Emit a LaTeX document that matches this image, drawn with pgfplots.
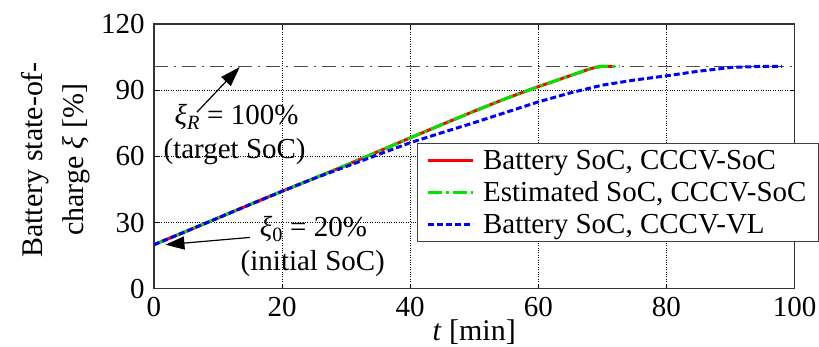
\documentclass[border=0pt]{standalone}
\usepackage{fontspec}
\setmainfont{Liberation Serif}
\usepackage{pgfplots}
\pgfplotsset{compat=1.18}
\usetikzlibrary{arrows.meta}
\newcommand{\fsz}[1]{\fontsize{#1}{#1}\selectfont}

\begin{document}
\begin{tikzpicture}
\begin{axis}[
  scale only axis, width=641pt, height=265pt,
  xmin=0, xmax=100, ymin=0, ymax=120,
  xtick={0,20,40,60,80,100}, ytick={0,30,60,90,120},
  grid=major, major grid style={black, dotted, line width=0.9pt},
  axis line style={line width=1.3pt, black!80},
  tick style={black, line width=0.8pt}, major tick length=5pt,
  /pgf/number format/assume math mode=true,
  tick label style={font=\fsz{29}},
  xticklabel style={inner sep=0pt, yshift=-8pt},
  yticklabel style={inner sep=0pt, xshift=-9pt},
  xlabel={\textit{t} [min]},
  ylabel={Battery state-of-\\charge \textit{ξ} [\%]},
  xlabel style={font=\fsz{30}, at={(axis description cs:0.5,0)}, anchor=north, inner sep=0pt, yshift=-31pt},
  ylabel style={font=\fontsize{30}{41}\selectfont, align=center, at={(axis description cs:-0.154,0.487)}, anchor=center, inner sep=0pt},
  legend style={at={(0.41,0.551)}, anchor=north west, draw=black!75, line width=1pt, fill=white,
    font=\fsz{29}, inner xsep=9pt, inner ysep=1pt, nodes={inner xsep=3pt, inner ysep=5.5pt}, row sep=0pt, column sep=6pt},
  legend cell align=left,
  legend image code/.code={\draw[#1] (0pt,0pt) -- (45pt,0pt);},
]
\addplot[forget plot, color=black!70, line width=1.5pt, dash pattern=on 14pt off 6pt on 2pt off 6pt]
  coordinates {(0,100.8) (100,100.8)};

\addplot[color=red, line width=3pt, no markers] coordinates {
 (0,20) (5,26) (10,32.1) (15,38.2) (20,44.2) (25,50.1) (30,56) (35,62.2) (40,68.4)
 (45,74.5) (50,80.5) (55,86.3) (60,91.6) (62,93.6) (64,95.6) (66,97.6) (67,98.6)
 (68,99.6) (69,100.4) (70,100.8) (71.5,100.8)};
\addlegendentry{Battery SoC, CCCV-SoC}

\addplot[color=green!90!black, line width=3pt, no markers, dash pattern=on 14pt off 4pt on 3pt off 4pt] coordinates {
 (0,20) (5,26) (10,32.1) (15,38.2) (20,44.2) (25,50.1) (30,56) (35,62.2) (40,68.4)
 (45,74.5) (50,80.5) (55,86.3) (60,91.6) (62,93.6) (64,95.6) (66,97.6) (67,98.6)
 (68,99.6) (69,100.4) (70,100.8) (72.7,100.8)};
\addlegendentry{Estimated SoC, CCCV-SoC}

\addplot[color=blue, line width=3pt, no markers, dash pattern=on 6pt off 3pt] coordinates {
 (0,20) (5,26) (10,32.1) (15,38.2) (20,44.2) (25,50) (30,55.4) (35,60.8) (40,66.2)
 (45,70.8) (50,75.3) (55,80) (60,84.7) (65,88.8) (70,92.3) (75,94.6) (80,96.5)
 (85,98.6) (88,99.6) (90,100.3) (93,100.6) (95,100.8) (98,100.8)};
\addlegendentry{Battery SoC, CCCV-VL}

\draw[-{Triangle[length=20pt,width=13pt]}, line width=1.2pt] (axis cs:6.7,80) -- (axis cs:13.4,100.5);
\draw[-{Triangle[length=19pt,width=13pt]}, line width=1.2pt] (axis cs:15,23.3) -- (axis cs:1.8,20);
\node[font=\fsz{29}, inner sep=0pt] at (axis cs:12.9,77.8) {\textit{ξ}\textsubscript{\textit{R}} = 100\%};
\node[font=\fsz{29}, inner sep=0pt] at (axis cs:12.6,62.3) {(target SoC)};
\node[font=\fsz{29}, inner sep=0pt] at (axis cs:24.9,27) {\textit{ξ}\textsubscript{0} = 20\%};
\node[font=\fsz{29}, inner sep=0pt] at (axis cs:24.8,11.4) {(initial SoC)};
\end{axis}
\path (current axis.south west) ++(-154pt,-58pt) rectangle ++(819pt,347pt);
\end{tikzpicture}
\end{document}
